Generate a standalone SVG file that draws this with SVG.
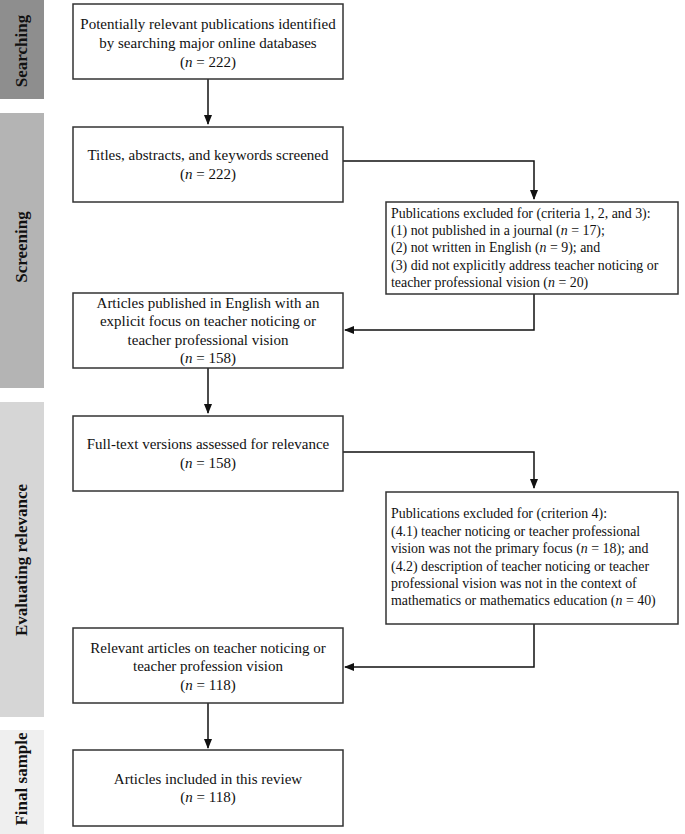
<svg xmlns="http://www.w3.org/2000/svg" width="685" height="834" viewBox="0 0 685 834">
<defs>
<marker id="ah" markerWidth="10" markerHeight="10" refX="9" refY="5" orient="auto" markerUnits="userSpaceOnUse">
<path d="M0,1 L10,5 L0,9 Z" fill="#111"/>
</marker>
<style>
.box{fill:#fff;stroke:#333;stroke-width:1.5}
.t{font-family:"Liberation Serif","Times New Roman",serif;font-size:15px;fill:#111}
.s{font-size:13.9px}
.c{text-anchor:middle}
.side{font-family:"Liberation Serif","Times New Roman",serif;font-size:17px;font-weight:bold;fill:#111;text-anchor:middle}
.ln{fill:none;stroke:#111;stroke-width:1.5;marker-end:url(#ah)}
</style>
</defs>
<rect width="685" height="834" fill="#fff"/>
<g id="stages">
<rect x="0" y="0" width="44" height="99" fill="#8e8e8e"/>
<text class="side" transform="translate(27,51) rotate(-90)">Searching</text>
<rect x="0" y="113" width="44" height="275" fill="#b4b4b4"/>
<text class="side" transform="translate(27,247) rotate(-90)">Screening</text>
<rect x="0" y="402" width="44" height="315" fill="#d6d6d6"/>
<text class="side" transform="translate(27,560) rotate(-90)">Evaluating relevance</text>
<rect x="0" y="730" width="44" height="104" fill="#efefef"/>
<text class="side" transform="translate(27,779) rotate(-90)">Final sample</text>
</g>
<g id="connectors">
<path class="ln" d="M208,79 V124"/>
<path class="ln" d="M343,161 H534 V199"/>
<path class="ln" d="M534,294 V330 H345"/>
<path class="ln" d="M208,368 V413"/>
<path class="ln" d="M343,452 H534 V488"/>
<path class="ln" d="M534,624 V667 H345"/>
<path class="ln" d="M208,703 V748"/>
</g>
<g id="n1">
<rect class="box" x="73" y="4" width="270" height="75"/>
<text class="t c" x="208" y="29">Potentially relevant publications identified</text>
<text class="t c" x="208" y="48">by searching major online databases</text>
<text class="t c" x="208" y="67">(<tspan font-style="italic">n</tspan> = 222)</text>
</g>
<g id="n2">
<rect class="box" x="73" y="127" width="270" height="75"/>
<text class="t c" x="208" y="160">Titles, abstracts, and keywords screened</text>
<text class="t c" x="208" y="179">(<tspan font-style="italic">n</tspan> = 222)</text>
</g>
<g id="n3">
<rect class="box" x="386" y="202" width="292" height="92"/>
<text class="t s" x="391" y="218">Publications excluded for (criteria 1, 2, and 3):</text>
<text class="t s" x="391" y="235">(1) not published in a journal (<tspan font-style="italic">n</tspan> = 17);</text>
<text class="t s" x="391" y="252">(2) not written in English (<tspan font-style="italic">n</tspan> = 9); and</text>
<text class="t s" x="391" y="270">(3) did not explicitly address teacher noticing or</text>
<text class="t s" x="391" y="287">teacher professional vision (<tspan font-style="italic">n</tspan> = 20)</text>
</g>
<g id="n4">
<rect class="box" x="73" y="293" width="270" height="75"/>
<text class="t c" x="208" y="308">Articles published in English with an</text>
<text class="t c" x="208" y="326">explicit focus on teacher noticing or</text>
<text class="t c" x="208" y="345">teacher professional vision</text>
<text class="t c" x="208" y="363">(<tspan font-style="italic">n</tspan> = 158)</text>
</g>
<g id="n5">
<rect class="box" x="73" y="416" width="270" height="75"/>
<text class="t c" x="208" y="449">Full-text versions assessed for relevance</text>
<text class="t c" x="208" y="468">(<tspan font-style="italic">n</tspan> = 158)</text>
</g>
<g id="n6">
<rect class="box" x="386" y="492" width="292" height="132"/>
<text class="t s" x="391" y="518">Publications excluded for (criterion 4):</text>
<text class="t s" x="391" y="536">(4.1) teacher noticing or teacher professional</text>
<text class="t s" x="391" y="553">vision was not the primary focus (<tspan font-style="italic">n</tspan> = 18); and</text>
<text class="t s" x="391" y="571">(4.2) description of teacher noticing or teacher</text>
<text class="t s" x="391" y="588">professional vision was not in the context of</text>
<text class="t s" x="391" y="605">mathematics or mathematics education (<tspan font-style="italic">n</tspan> = 40)</text>
</g>
<g id="n7">
<rect class="box" x="73" y="628" width="270" height="75"/>
<text class="t c" x="208" y="653">Relevant articles on teacher noticing or</text>
<text class="t c" x="208" y="671">teacher profession vision</text>
<text class="t c" x="208" y="690">(<tspan font-style="italic">n</tspan> = 118)</text>
</g>
<g id="n8">
<rect class="box" x="73" y="750" width="270" height="76"/>
<text class="t c" x="208" y="784">Articles included in this review</text>
<text class="t c" x="208" y="802">(<tspan font-style="italic">n</tspan> = 118)</text>
</g>
</svg>
